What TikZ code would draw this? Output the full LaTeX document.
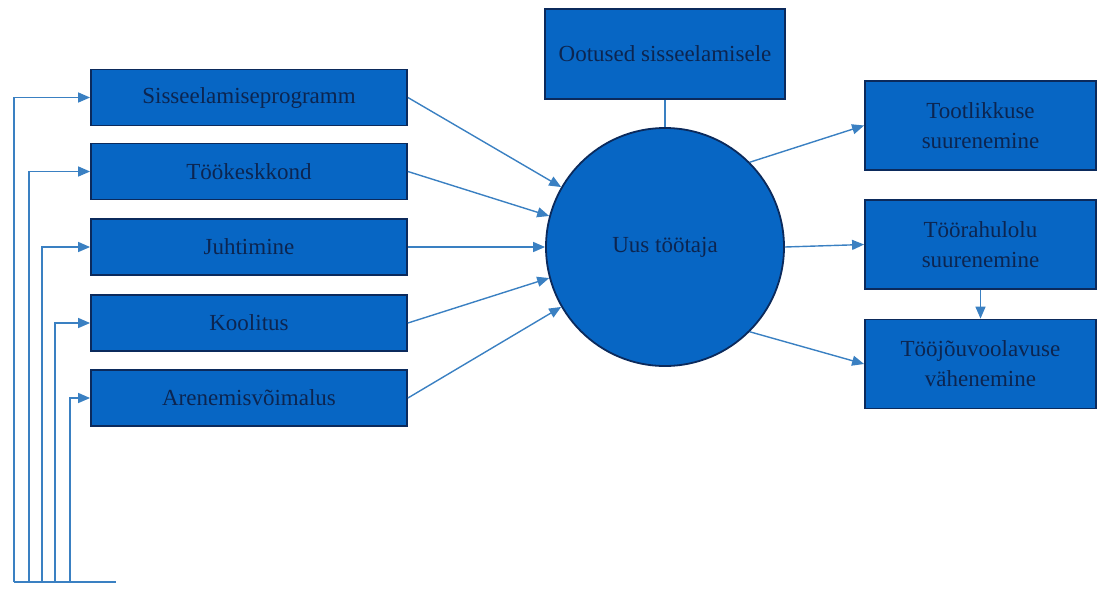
\documentclass[tikz,border=0pt]{standalone}
\usepackage{fontspec}
\setmainfont{Liberation Serif}
\usetikzlibrary{arrows.meta}
\definecolor{boxfill}{HTML}{0766C4}
\definecolor{boxline}{HTML}{0B2A5C}
\definecolor{txt}{HTML}{0C2550}
\definecolor{conn}{HTML}{3A80C2}
\tikzset{
  box/.style={draw=boxline, line width=1.8pt, fill=boxfill, text=txt, inner sep=0pt, align=center, font=\fontsize{23}{30}\selectfont},
  leftbox/.style={box, minimum width=316pt, minimum height=56pt},
  rightbox/.style={box, minimum width=231pt, minimum height=89pt},
  conline/.style={draw=conn, line width=1.4pt},
  arr/.style={conline, -{Triangle[width=10pt,length=12pt]}},
}
\begin{document}
\begin{tikzpicture}[x=1pt,y=-1pt]
\useasboundingbox (0,0) rectangle (1098,590);
% left boxes
\node[leftbox] (b1) at (249,97.5) {Sisseelamiseprogramm};
\node[leftbox] (b2) at (249,171.5) {Töökeskkond};
\node[leftbox] (b3) at (249,247) {Juhtimine};
\node[leftbox] (b4) at (249,323) {Koolitus};
\node[leftbox] (b5) at (249,398) {Arenemisvõimalus};
% top box
\node[box, minimum width=240pt, minimum height=90pt] (top) at (665,54) {Ootused sisseelamisele};
% circle
\node[box, circle, minimum size=238pt] (c) at (665,247) {Uus töötaja};
% right boxes
\node[rightbox] (r1) at (980.5,125.5) {Tootlikkuse\\suurenemine};
\node[rightbox] (r2) at (980.5,244.5) {Töörahulolu\\suurenemine};
\node[rightbox] (r3) at (980.5,364) {Tööjõuvoolavuse\\vähenemine};
% connectors into circle
\draw[arr] (b1.east) -- (c.150);
\draw[arr] (b2.east) -- (c.165);
\draw[arr] (b3.east) -- (c.180);
\draw[arr] (b4.east) -- (c.195);
\draw[arr] (b5.east) -- (c.210);
\draw[conline] (top.south) -- (c.north);
% out of circle
\draw[arr] (c.45) -- (r1.west);
\draw[arr] (c.0) -- (r2.west);
\draw[arr] (c.-45) -- (r3.west);
\draw[arr] (r2.south) -- (r3.north);
% feedback lines
\coordinate (f1) at (14,582);
\coordinate (f2) at (29,582);
\coordinate (f3) at (42,582);
\coordinate (f4) at (55,582);
\coordinate (f5) at (70,582);
\coordinate (fend) at (116,582);
\draw[conline] (f1) -- (fend);
\draw[arr] (f1) |- (b1.west);
\draw[arr] (f2) |- (b2.west);
\draw[arr] (f3) |- (b3.west);
\draw[arr] (f4) |- (b4.west);
\draw[arr] (f5) |- (b5.west);
\end{tikzpicture}
\end{document}
